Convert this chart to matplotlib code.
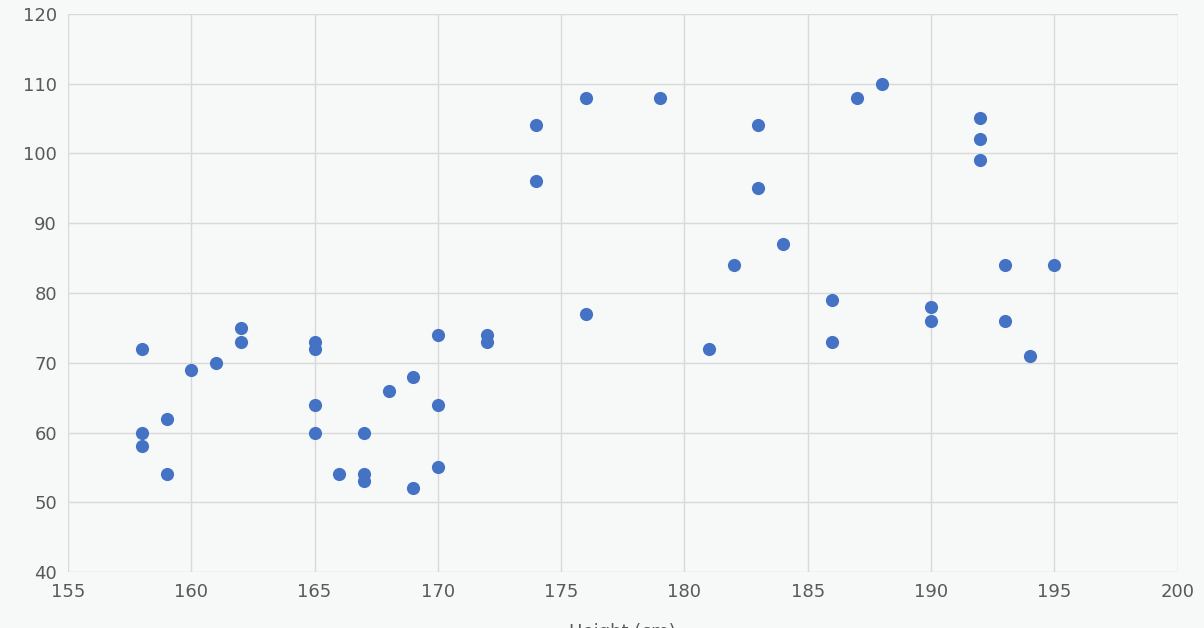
import matplotlib.pyplot as plt

height = [158, 158, 158, 159, 159, 160, 161, 162, 162, 165, 165, 165, 165, 166, 167, 167, 167,
          168, 169, 169, 170, 170, 170, 172, 172, 174, 174, 176, 176, 179, 181, 182, 183, 183,
          184, 186, 186, 187, 188, 190, 190, 192, 192, 192, 193, 193, 194, 195]
weight = [72, 60, 58, 62, 54, 69, 70, 75, 73, 73, 72, 64, 60, 54, 60, 54, 53,
          66, 68, 52, 74, 64, 55, 74, 73, 104, 96, 108, 77, 108, 72, 84, 104, 95,
          87, 79, 73, 108, 110, 78, 76, 105, 102, 99, 84, 76, 71, 84]

bg = "#f7f8f8"
fig = plt.figure(figsize=(12.04, 6.28), dpi=100, facecolor=bg)
ax = fig.add_axes([0.0565, 0.089, 0.9215, 0.889], facecolor=bg)
ax.scatter(height, weight, s=90, color="#4472c4", zorder=3, linewidths=0)
ax.set_xlim(155, 200)
ax.set_ylim(40, 120)
ax.set_xticks(range(155, 201, 5))
ax.set_yticks(range(40, 121, 10))
ax.grid(True, color="#d9d9d9", linewidth=1)
for s in ax.spines.values():
    s.set_visible(False)
ax.tick_params(length=0, labelsize=13, labelcolor="#595959", pad=8)
ax.set_ylabel("Weight (kg)", fontsize=13, color="#595959", labelpad=16)
ax.set_xlabel("Height (cm)", fontsize=13, color="#595959", labelpad=16)
fig.savefig("out.png", facecolor=bg)
